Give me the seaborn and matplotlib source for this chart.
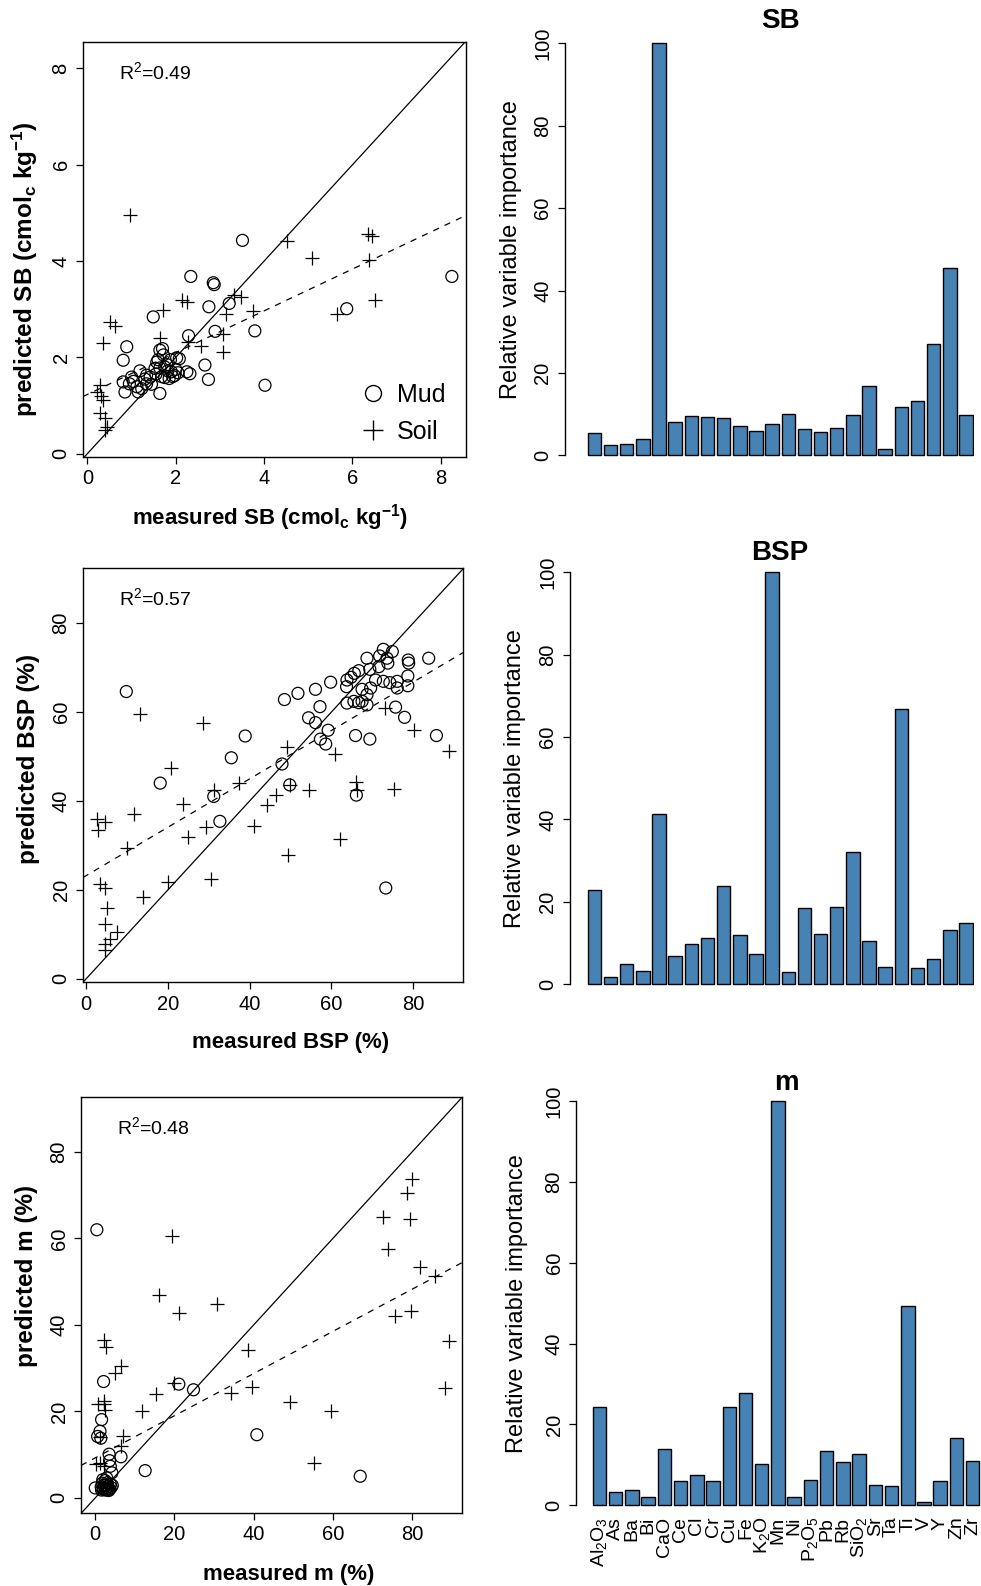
import numpy as np
import pandas as pd
import matplotlib
matplotlib.use("Agg")
import matplotlib.pyplot as plt
import seaborn as sns
from matplotlib.lines import Line2D

# ---------------- data ----------------
variables = ["Al2O3", "As", "Ba", "Bi", "CaO", "Ce", "Cl", "Cr", "Cu", "Fe", "K2O", "Mn",
             "Ni", "P2O5", "Pb", "Rb", "SiO2", "Sr", "Ta", "Ti", "V", "Y", "Zn", "Zr"]
var_labels = [r"Al$_2$O$_3$", "As", "Ba", "Bi", "CaO", "Ce", "Cl", "Cr", "Cu", "Fe", r"K$_2$O", "Mn",
              "Ni", r"P$_2$O$_5$", "Pb", "Rb", r"SiO$_2$", "Sr", "Ta", "Ti", "V", "Y", "Zn", "Zr"]

imp_sb = [5.3, 2.4, 2.75, 4.0, 100, 8.1, 9.5, 9.3, 9.1, 7.0, 5.8, 7.7,
          10.1, 6.4, 5.6, 6.6, 9.7, 16.7, 1.5, 11.8, 13.2, 27.0, 45.4, 9.7]
imp_bsp = [22.8, 1.6, 4.8, 3.1, 41.4, 6.8, 9.6, 11.2, 23.9, 11.9, 7.4, 100,
           2.9, 18.4, 12.2, 18.8, 32.1, 10.5, 4.2, 66.9, 3.8, 6.1, 13.0, 14.7]
imp_m = [24.2, 3.3, 3.8, 2.1, 13.9, 5.9, 7.5, 6.1, 24.2, 27.9, 10.1, 100,
         2.1, 6.3, 13.5, 10.7, 12.8, 4.9, 4.7, 49.3, 0.9, 5.9, 16.7, 11.0]

# SB (cmolc/kg)
sb_mud_x = [3.51, 2.34, 2.85, 2.87, 2.75, 3.21, 1.49, 2.89, 3.79, 8.25, 5.87, 0.89, 0.81, 2.29,
            1.64, 1.70, 2.02, 2.08, 2.66, 2.74, 2.25, 2.32, 1.64, 4.02, 1.19, 1.00, 0.81, 0.85,
            1.12, 1.15, 1.34, 1.42, 1.53, 1.57, 1.64, 1.75, 1.82, 1.90, 1.97, 1.68, 1.75, 1.85,
            1.93, 1.34, 1.45, 1.23, 1.04, 1.80, 2.00, 1.60, 1.72, 1.55, 1.30, 0.95, 2.05, 1.88]
sb_mud_y = [4.43, 3.68, 3.55, 3.51, 3.05, 3.12, 2.84, 2.54, 2.55, 3.68, 3.01, 2.22, 1.94, 2.45,
            2.15, 2.18, 1.99, 1.97, 1.84, 1.54, 1.70, 1.66, 1.25, 1.42, 1.72, 1.59, 1.49, 1.28,
            1.39, 1.28, 1.45, 1.59, 1.77, 1.90, 1.78, 1.80, 1.72, 1.70, 1.62, 1.60, 1.58, 1.56,
            1.60, 1.63, 1.44, 1.35, 1.50, 1.85, 1.75, 1.95, 2.05, 1.65, 1.55, 1.45, 1.68, 1.95]
sb_soil_x = [0.97, 4.52, 5.09, 6.36, 6.45, 6.37, 6.51, 5.66, 3.31, 3.47, 3.74, 3.13, 3.08, 3.06,
             2.15, 2.25, 1.70, 1.64, 2.57, 2.27, 0.50, 0.63, 0.35, 0.29, 0.21, 0.36, 0.29, 0.40,
             0.44, 0.40, 0.30]
sb_soil_y = [4.96, 4.41, 4.07, 4.57, 4.53, 4.03, 3.20, 2.89, 3.30, 3.26, 2.96, 2.89, 2.49, 2.11,
             3.20, 3.15, 2.98, 2.41, 2.24, 2.32, 2.74, 2.65, 2.29, 1.43, 1.28, 1.11, 0.85, 0.73,
             0.55, 0.50, 1.20]
sb_fit = [1.23, 0.434]   # intercept, slope of dashed regression line
sb_r2 = "0.49"

# BSP (%)
bsp_mud_x = [9.8, 18.1, 35.5, 38.9, 32.7, 31.2, 47.9, 49.8, 66.1, 73.3, 69.4, 65.9, 85.7, 77.9,
             75.7, 48.5, 51.8, 56.1, 59.8, 57.2, 54.4, 56.1, 59.2, 57.3, 58.6, 83.8, 78.8, 78.9,
             78.7, 78.7, 63.8, 64.8, 65.6, 66.7, 63.7, 68.7, 71.8, 72.7, 73.6, 74.9, 73.8, 69.4,
             71.6, 67.5, 69.6, 68.7, 70.8, 72.7, 74.3, 76.1, 76.1, 63.8, 65.5, 66.7, 67.5, 68.7]
bsp_mud_y = [64.6, 44.0, 49.7, 54.6, 35.4, 41.0, 48.3, 43.6, 41.3, 20.4, 53.9, 54.7, 54.7, 58.8,
             61.1, 62.8, 64.2, 65.1, 66.7, 61.2, 58.7, 57.6, 55.9, 53.9, 52.8, 72.1, 71.7, 71.0,
             68.1, 65.9, 67.2, 67.8, 68.7, 69.3, 65.7, 72.1, 72.6, 74.1, 72.1, 73.6, 71.0, 69.6,
             70.2, 65.1, 65.4, 63.9, 67.2, 66.9, 66.6, 66.9, 65.4, 62.0, 62.4, 62.1, 62.4, 61.6]
bsp_soil_x = [13.1, 28.5, 20.8, 49.2, 60.8, 80.3, 88.7, 73.2, 66.1, 66.3, 75.2, 54.4, 49.8, 46.4,
              44.2, 37.5, 31.2, 23.6, 24.9, 29.3, 41.0, 11.7, 9.9, 2.7, 4.7, 2.8, 62.1, 49.3,
              30.6, 19.9, 13.8, 3.4, 4.7, 5.1, 4.7, 7.5, 5.9, 4.7, 4.7]
bsp_soil_y = [59.6, 57.5, 47.4, 52.1, 50.6, 56.0, 51.3, 61.0, 44.2, 42.5, 42.7, 42.5, 43.6, 41.4,
              39.1, 44.1, 42.4, 39.4, 31.9, 34.1, 34.4, 37.0, 29.3, 36.0, 35.2, 33.4, 31.4, 27.9,
              22.4, 21.7, 18.4, 21.4, 20.5, 16.0, 12.3, 10.5, 9.0, 7.9, 6.4]
bsp_fit = [23.2, 0.544]
bsp_r2 = "0.57"

# m (%)
m_mud_x = [0.4, 2.1, 24.8, 21.1, 40.8, 66.9, 12.6, 6.5, 3.5, 1.6, 1.2, 0.6, 1.4, 0.0, 3.8, 4.2,
           2.9, 3.6, 1.5, 2.0, 2.4, 2.8, 3.2, 3.6, 4.0, 1.8, 2.6, 3.0, 3.4, 2.2, 4.3, 1.6, 3.8,
           2.5, 1.9, 2.1, 3.1, 2.7]
m_mud_y = [62.0, 26.9, 25.0, 26.3, 14.6, 5.0, 6.3, 9.5, 10.1, 18.1, 15.4, 14.2, 13.8, 2.3, 7.3, 5.8,
           4.6, 8.6, 2.5, 2.0, 3.0, 2.2, 2.6, 2.0, 2.4, 3.4, 1.8, 3.5, 1.7, 2.8, 2.9, 1.8, 3.2,
           4.0, 4.2, 2.2, 2.0, 2.9]
m_soil_x = [80.0, 78.7, 72.7, 79.4, 73.9, 82.1, 85.9, 75.6, 79.8, 89.3, 88.4, 19.5, 16.1, 21.2,
            30.8, 38.6, 39.7, 34.4, 49.1, 59.6, 55.2, 15.3, 11.9, 20.0, 2.3, 2.6, 6.5, 5.1, 0.7,
            2.1, 2.5, 2.3, 6.9, 6.6, 1.1, 0.1, 1.3, 2.1]
m_soil_y = [73.8, 70.4, 65.0, 64.4, 57.5, 53.3, 51.2, 42.1, 43.3, 36.2, 25.4, 60.5, 46.9, 42.8,
            44.9, 34.1, 25.6, 24.2, 22.1, 20.2, 8.1, 24.0, 20.0, 26.5, 36.5, 35.0, 30.4, 28.8, 21.8,
            22.3, 20.4, 21.8, 14.4, 12.0, 14.0, 7.9, 8.1, 7.3]
m_fit = [9.25, 0.4875]
m_r2 = "0.48"

# ---------------- style ----------------
sns.set_theme(style="white")
plt.rcParams["font.family"] = ["Liberation Sans", "DejaVu Sans"]
plt.rcParams["mathtext.fontset"] = "custom"
plt.rcParams["mathtext.rm"] = "Liberation Sans"
plt.rcParams["mathtext.it"] = "Liberation Sans:italic"
plt.rcParams["mathtext.bf"] = "Liberation Sans:bold"
plt.rcParams["axes.unicode_minus"] = False
plt.rcParams["text.color"] = "black"
plt.rcParams["axes.labelcolor"] = "black"
plt.rcParams["xtick.color"] = "black"
plt.rcParams["ytick.color"] = "black"

W, H = 981, 1586
fig = plt.figure(figsize=(W / 100, H / 100), dpi=100)


def add_axes_px(left, top, right, bottom):
    return fig.add_axes([left / W, 1 - bottom / H, (right - left) / W, (bottom - top) / H])


TICK_FS = 14.5
LW = 0.9


def rotate_yticklabels(ax):
    for lab in ax.get_yticklabels():
        lab.set_rotation(90)
        lab.set_va("center")


def scatter_panel(box, mud_x, mud_y, soil_x, soil_y, fit, xlim, ylim, ticks, xlabel, ylabel, r2,
                  xlab_pad, xlab_x, ylab_y, legend=False):
    ax = add_axes_px(*box)
    sns.scatterplot(x=mud_x, y=mud_y, ax=ax, marker="o", s=74, facecolor="none",
                    edgecolor="black", linewidth=LW)
    sns.scatterplot(x=soil_x, y=soil_y, ax=ax, marker="+", s=108, color="black", linewidth=LW)
    ax.axline((0, 0), slope=1, color="black", lw=LW)
    ax.axline((0, fit[0]), slope=fit[1], color="black", lw=LW, ls=(0, (5, 5)))
    ax.set_xlim(*xlim)
    ax.set_ylim(*ylim)
    ax.set_xticks(ticks)
    ax.set_yticks(ticks)
    ax.set_xticklabels([str(t) for t in ticks])
    ax.set_yticklabels([str(t) for t in ticks])
    for sp in ax.spines.values():
        sp.set_visible(True)
        sp.set_color("black")
        sp.set_linewidth(1.0)
    ax.tick_params(direction="out", length=5, width=LW, colors="black", labelsize=TICK_FS,
                   bottom=True, left=True, pad=4)
    rotate_yticklabels(ax)
    ax.set_xlabel(xlabel, fontsize=16, fontweight="bold", labelpad=xlab_pad)
    ax.set_ylabel(ylabel, fontsize=17.5, fontweight="bold", labelpad=8)
    ax.xaxis.label.set_x(xlab_x)
    ax.yaxis.label.set_y(ylab_y)
    ax.text(0.095, 0.928, r"R$^2$=" + r2, transform=ax.transAxes, fontsize=14,
            ha="left", va="center", color="black")
    if legend:
        handles = [Line2D([], [], marker="o", mfc="none", mec="black", mew=1.0, ms=11.5, ls="none"),
                   Line2D([], [], marker="+", color="black", mew=1.0, ms=14, ls="none")]
        ax.legend(handles, ["Mud", "Soil"], loc="lower right", bbox_to_anchor=(1.004, -0.022),
                  frameon=False, fontsize=18, handlelength=1.0, handletextpad=0.45,
                  labelspacing=0.5, borderpad=0.4)
    return ax


def bar_panel(bar_left, bar_right, y0, y100, values, title, title_pad, spine_out, ylab_pad,
              xlabels=False):
    n = len(values)
    w = 0.833
    pitch = (bar_right - bar_left) / (n - 1 + w)
    xl0, xl1 = -0.5, n - 0.5
    yl0, yl1 = -0.4, 100.4
    left = bar_left - (w / 2 + xl0) * pitch
    right = left + (xl1 - xl0) * pitch
    ppu = (y0 - y100) / 100.0
    top = y100 - (yl1 - 100) * ppu
    bottom = y0 + (0 - yl0) * ppu
    ax = add_axes_px(left, top, right, bottom)
    df = pd.DataFrame({"variable": variables, "importance": values})
    sns.barplot(data=df, x="variable", y="importance", ax=ax, color="#4682B4", saturation=1,
                width=w, edgecolor="black", linewidth=1.0, errorbar=None)
    ax.set_xlim(xl0, xl1)
    ax.set_ylim(yl0, yl1)
    for k in ["top", "right", "bottom"]:
        ax.spines[k].set_visible(False)
    ax.spines["left"].set_visible(True)
    ax.spines["left"].set_color("black")
    ax.spines["left"].set_linewidth(1.0)
    ax.spines["left"].set_position(("outward", spine_out))
    ax.spines["left"].set_bounds(0, 100)
    ax.set_yticks([0, 20, 40, 60, 80, 100])
    ax.set_yticklabels(["0", "20", "40", "60", "80", "100"])
    ax.tick_params(axis="y", direction="out", length=5, width=LW, colors="black",
                   labelsize=TICK_FS, left=True, pad=4)
    rotate_yticklabels(ax)
    ax.set_ylabel("Relative variable importance", fontsize=17, labelpad=ylab_pad)
    ax.set_xlabel("")
    if xlabels:
        ax.set_xticks(list(range(n)))
        ax.set_xticklabels(var_labels)
        ax.tick_params(axis="x", which="both", bottom=True, length=0, pad=7, colors="black",
                       labelsize=14, labelbottom=True, labelrotation=90)
    else:
        ax.set_xticks([])
    ax.set_title(title, fontsize=20, fontweight="bold", pad=title_pad)
    return ax


scatter_panel((83, 42, 466, 457), sb_mud_x, sb_mud_y, sb_soil_x, sb_soil_y, sb_fit,
              (-0.1, 8.57), (-0.07, 8.55), [0, 2, 4, 6, 8],
              r"measured SB (cmol$_\mathbf{c}$ kg$^\mathbf{-1}$)",
              r"predicted SB (cmol$_\mathbf{c}$ kg$^\mathbf{-1}$)", sb_r2,
              9.5, 0.488, 0.453, legend=True)
scatter_panel((83, 568, 463, 982), bsp_mud_x, bsp_mud_y, bsp_soil_x, bsp_soil_y, bsp_fit,
              (-0.8, 92.2), (-0.75, 92.4), [0, 20, 40, 60, 80],
              "measured BSP (%)", "predicted BSP (%)", bsp_r2,
              13, 0.546, 0.54)
scatter_panel((81, 1097, 462, 1513), m_mud_x, m_mud_y, m_soil_x, m_soil_y, m_fit,
              (-3.6, 92.6), (-3.5, 92.7), [0, 20, 40, 60, 80],
              "measured m (%)", "predicted m (%)", m_r2,
              14, 0.546, 0.569)

bar_panel(585, 970, 455.3, 43.3, imp_sb, "SB", 10, 15.5, 8)
bar_panel(585, 970, 984.0, 572.3, imp_bsp, "BSP", 8, 12, 9)
bar_panel(590, 976.7, 1505.3, 1101.0, imp_m, "m", 7, 11, 12, xlabels=True)

fig.savefig("out.png", dpi=100)
